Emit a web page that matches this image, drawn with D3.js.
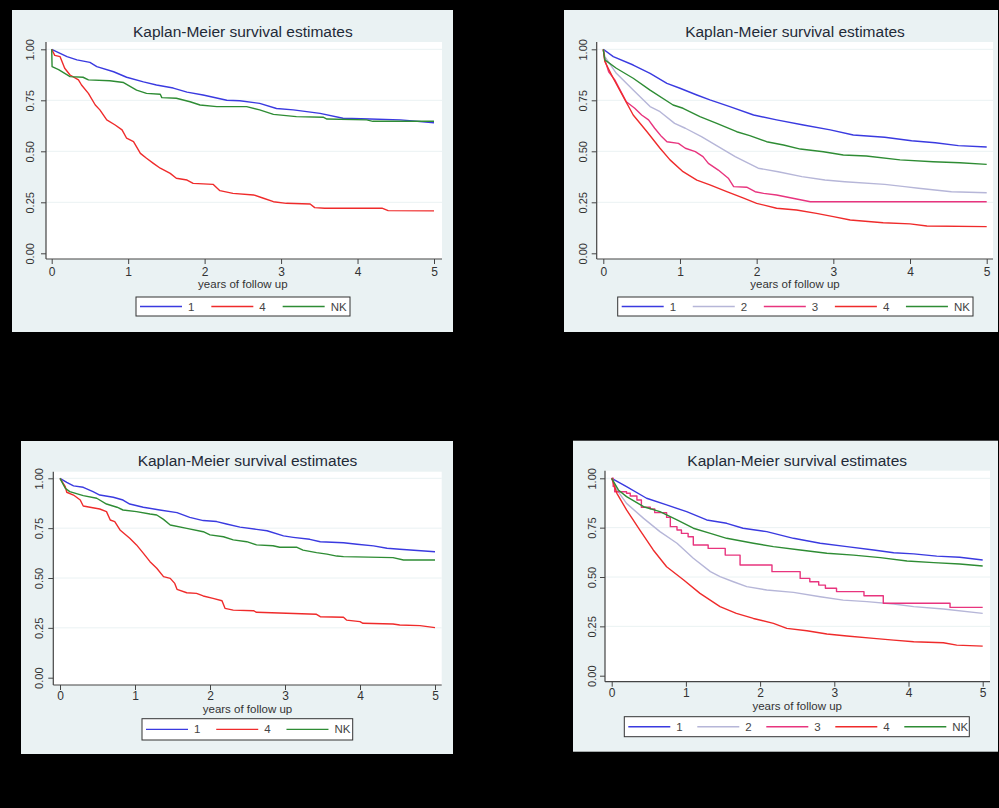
<!DOCTYPE html>
<html>
<head>
<meta charset="utf-8">
<script src="https://cdn.jsdelivr.net/npm/d3@7"></script>
<style>
  body { margin: 0; background: #000; }
  svg { display: block; font-family: "Liberation Sans", Arial, sans-serif; }
</style>
</head>
<body>
<svg id="km" width="999" height="808"></svg>
<script>
// survival estimates: [years, survival]
var p1_g1 = [[0,1],[0.2,0.964],[0.33,0.948],[0.5,0.936],[0.59,0.915],[0.81,0.89],[0.98,0.863],[1.2,0.84],[1.37,0.825],[1.59,0.81],[1.77,0.79],[1.98,0.776],[2.29,0.75],[2.46,0.748],[2.72,0.735],[2.94,0.71],[3.16,0.703],[3.51,0.686],[3.81,0.662],[4.16,0.658],[4.56,0.654],[5,0.64]];
var p1_g4 = [[0,1],[0.04,0.97],[0.11,0.964],[0.17,0.907],[0.24,0.874],[0.35,0.85],[0.39,0.825],[0.48,0.784],[0.57,0.727],[0.63,0.703],[0.72,0.654],[0.83,0.629],[0.92,0.605],[0.98,0.564],[1.07,0.547],[1.16,0.49],[1.24,0.466],[1.33,0.441],[1.42,0.417],[1.55,0.392],[1.63,0.368],[1.77,0.359],[1.85,0.343],[2.11,0.338],[2.2,0.307],[2.37,0.294],[2.64,0.286],[2.77,0.27],[2.9,0.253],[3.07,0.245],[3.38,0.242],[3.44,0.224],[3.57,0.221],[4.32,0.221],[4.4,0.209],[5,0.208]];
var p1_gNK = [[0,1],[0.005,0.915],[0.09,0.9],[0.24,0.866],[0.41,0.863],[0.48,0.85],[0.76,0.846],[0.94,0.837],[1.11,0.8],[1.24,0.784],[1.42,0.78],[1.44,0.763],[1.63,0.76],[1.81,0.743],[1.94,0.727],[2.16,0.719],[2.55,0.719],[2.72,0.703],[2.9,0.681],[3.2,0.67],[3.55,0.667],[3.6,0.658],[4.12,0.654],[4.2,0.647],[5,0.647]];

var p2_g1 = [[0,1],[0.13,0.964],[0.39,0.923],[0.61,0.882],[0.83,0.833],[1.0,0.809],[1.22,0.776],[1.39,0.752],[1.65,0.719],[1.96,0.678],[2.26,0.654],[2.61,0.629],[2.96,0.605],[3.26,0.58],[3.67,0.569],[4.02,0.552],[4.33,0.542],[4.63,0.528],[5,0.521]];
var p2_g2 = [[0,1],[0.02,0.964],[0.17,0.882],[0.39,0.8],[0.61,0.719],[0.74,0.694],[0.93,0.637],[1.07,0.613],[1.28,0.572],[1.5,0.523],[1.72,0.474],[1.85,0.449],[2.02,0.417],[2.28,0.4],[2.59,0.376],[2.89,0.359],[3.15,0.351],[3.67,0.338],[3.93,0.327],[4.11,0.319],[4.54,0.302],[5,0.297]];
var p2_g3 = [[0,1],[0.02,0.948],[0.07,0.89],[0.15,0.85],[0.22,0.8],[0.3,0.743],[0.41,0.711],[0.5,0.678],[0.59,0.654],[0.67,0.613],[0.76,0.572],[0.83,0.547],[0.98,0.539],[1.07,0.515],[1.2,0.498],[1.3,0.474],[1.37,0.441],[1.5,0.408],[1.63,0.368],[1.7,0.327],[1.87,0.324],[1.98,0.302],[2.09,0.294],[2.26,0.286],[2.52,0.266],[2.7,0.253],[5,0.253]];
var p2_g4 = [[0,1],[0.02,0.94],[0.13,0.858],[0.26,0.768],[0.39,0.678],[0.57,0.596],[0.74,0.515],[0.87,0.458],[1.04,0.4],[1.22,0.359],[1.39,0.335],[1.61,0.302],[1.83,0.27],[2.0,0.245],[2.26,0.221],[2.52,0.212],[2.78,0.196],[3.0,0.18],[3.22,0.163],[3.65,0.15],[4.0,0.144],[4.22,0.134],[5,0.131]];
var p2_gNK = [[0,1],[0.02,0.948],[0.17,0.907],[0.39,0.858],[0.61,0.8],[0.91,0.727],[1.04,0.711],[1.26,0.67],[1.48,0.637],[1.74,0.596],[1.91,0.577],[2.13,0.547],[2.35,0.531],[2.57,0.511],[2.87,0.498],[3.13,0.482],[3.43,0.477],[3.87,0.458],[4.3,0.449],[4.65,0.444],[5,0.436]];

var p3_g1 = [[0,1],[0.09,0.98],[0.18,0.962],[0.31,0.955],[0.44,0.933],[0.53,0.916],[0.71,0.905],[0.84,0.891],[0.93,0.871],[1.11,0.855],[1.33,0.841],[1.56,0.828],[1.73,0.804],[1.91,0.788],[2.09,0.783],[2.22,0.771],[2.4,0.755],[2.62,0.744],[2.76,0.737],[2.98,0.711],[3.11,0.704],[3.33,0.694],[3.47,0.682],[3.78,0.677],[3.96,0.669],[4.18,0.661],[4.36,0.649],[4.53,0.644],[5,0.632]];
var p3_g4 = [[0,1],[0.07,0.958],[0.09,0.93],[0.18,0.916],[0.27,0.891],[0.31,0.861],[0.4,0.855],[0.53,0.846],[0.62,0.833],[0.67,0.791],[0.73,0.783],[0.8,0.741],[0.93,0.699],[1.02,0.666],[1.11,0.625],[1.2,0.582],[1.29,0.549],[1.38,0.507],[1.47,0.498],[1.53,0.473],[1.56,0.443],[1.69,0.426],[1.82,0.423],[1.91,0.41],[2.04,0.398],[2.16,0.386],[2.2,0.348],[2.31,0.339],[2.58,0.336],[2.62,0.328],[3.02,0.323],[3.42,0.318],[3.47,0.306],[3.78,0.303],[3.82,0.289],[4.0,0.281],[4.04,0.273],[4.44,0.269],[4.53,0.264],[4.8,0.261],[5,0.251]];
var p3_gNK = [[0,1],[0.07,0.95],[0.13,0.933],[0.31,0.913],[0.49,0.9],[0.62,0.871],[0.76,0.855],[0.84,0.841],[1.02,0.833],[1.2,0.821],[1.29,0.816],[1.38,0.794],[1.47,0.766],[1.69,0.749],[1.91,0.732],[2.0,0.716],[2.18,0.707],[2.31,0.691],[2.49,0.682],[2.62,0.666],[2.84,0.662],[2.93,0.654],[3.16,0.654],[3.24,0.64],[3.42,0.627],[3.56,0.62],[3.69,0.61],[3.78,0.607],[4.44,0.602],[4.58,0.59],[5,0.59]];

var p4_g1 = [[0,1],[0.2,0.958],[0.47,0.899],[0.74,0.865],[1.01,0.831],[1.28,0.789],[1.55,0.772],[1.77,0.747],[2.09,0.73],[2.45,0.696],[2.81,0.671],[3.17,0.654],[3.53,0.637],[3.8,0.623],[4.07,0.617],[4.38,0.606],[4.69,0.6],[5,0.586]];
var p4_g2 = [[0,1],[0.07,0.941],[0.2,0.873],[0.43,0.797],[0.65,0.73],[0.88,0.671],[1.1,0.595],[1.33,0.527],[1.46,0.502],[1.64,0.476],[1.82,0.451],[2.09,0.434],[2.45,0.422],[2.81,0.4],[3.12,0.383],[3.44,0.375],[3.8,0.363],[4.07,0.35],[4.47,0.338],[5,0.316]];
var p4_g3 = [[0,1],[0.02,0.958],[0.04,0.932],[0.2,0.924],[0.25,0.91],[0.34,0.89],[0.4,0.853],[0.52,0.845],[0.58,0.826],[0.74,0.802],[0.79,0.755],[0.88,0.738],[0.94,0.721],[1.03,0.704],[1.1,0.662],[1.3,0.645],[1.53,0.611],[1.73,0.561],[2.16,0.527],[2.54,0.493],[2.67,0.476],[2.79,0.459],[2.88,0.443],[3.03,0.426],[3.4,0.405],[3.66,0.367],[4.56,0.346],[5,0.346]];
var p4_g4 = [[0,1],[0.07,0.924],[0.2,0.84],[0.38,0.738],[0.56,0.637],[0.74,0.552],[0.97,0.485],[1.19,0.417],[1.46,0.35],[1.68,0.316],[1.91,0.29],[2.18,0.265],[2.36,0.24],[2.63,0.228],[2.9,0.211],[3.17,0.201],[3.53,0.189],[3.8,0.18],[4.07,0.172],[4.47,0.167],[4.65,0.155],[5,0.15]];
var p4_gNK = [[0,1],[0.09,0.941],[0.2,0.907],[0.43,0.856],[0.65,0.831],[0.88,0.789],[1.1,0.747],[1.33,0.721],[1.55,0.696],[1.91,0.671],[2.18,0.654],[2.54,0.637],[2.9,0.62],[3.26,0.611],[3.62,0.598],[3.98,0.581],[4.34,0.573],[4.69,0.566],[5,0.556]];

var xTicks = [0, 1, 2, 3, 4, 5];
var yTicks = [0, 0.25, 0.5, 0.75, 1];
var title = "Kaplan-Meier survival estimates";
var xTitle = "years of follow up";

var colors = { "1": "#3a3ae0", "2": "#b6b6d8", "3": "#e8347e", "4": "#ef2b2b", "NK": "#2e8c34" };

var panels = [
  { box: [12, 10, 453, 332], plot: [46, 42, 442, 259], x: [51.7, 434], y: [253.3, 49.3],
    legend: [136, 297, 350, 316], tickY: 272, titleY: 31, axTitleY: 284, yLabX: 30,
    series: [["1", p1_g1, "linear"], ["4", p1_g4, "linear"], ["NK", p1_gNK, "linear"]] },
  { box: [564, 10, 998, 332], plot: [596.7, 42, 993, 259], x: [603.3, 986.7], y: [253.3, 49.3],
    legend: [617.7, 297, 973, 316], tickY: 272, titleY: 31, axTitleY: 284, yLabX: 583.3,
    series: [["1", p2_g1, "linear"], ["2", p2_g2, "linear"], ["3", p2_g3, "linear"], ["4", p2_g4, "linear"], ["NK", p2_gNK, "linear"]] },
  { box: [21, 441, 453, 754], plot: [53.3, 471.7, 441.7, 685], x: [60, 435], y: [677.7, 478.3],
    legend: [142, 718.7, 352.7, 740], tickY: 696, titleY: 460.7, axTitleY: 709, yLabX: 39.3,
    series: [["1", p3_g1, "linear"], ["4", p3_g4, "linear"], ["NK", p3_gNK, "linear"]] },
  { box: [573, 440.7, 998, 751.7], plot: [605, 470.7, 990, 681.7], x: [611.7, 982.7], y: [675.7, 478.3],
    legend: [624.3, 716.7, 969.3, 736.7], tickY: 693.5, titleY: 460.7, axTitleY: 705.5, yLabX: 591.7,
    series: [["1", p4_g1, "linear"], ["2", p4_g2, "linear"], ["3", p4_g3, "step"], ["4", p4_g4, "linear"], ["NK", p4_gNK, "linear"]] }
];

var svg = d3.select("#km");
svg.append("rect").attr("width", 999).attr("height", 808).attr("fill", "#000");

panels.forEach(function(p) {
  var g = svg.append("g");
  var b = p.box, pl = p.plot;
  g.append("rect").attr("x", b[0]).attr("y", b[1]).attr("width", b[2] - b[0]).attr("height", b[3] - b[1])
    .attr("fill", "#eaf2f3");
  g.append("rect").attr("x", pl[0]).attr("y", pl[1]).attr("width", pl[2] - pl[0]).attr("height", pl[3] - pl[1])
    .attr("fill", "#fff");

  var x = d3.scaleLinear().domain([0, 5]).range(p.x);
  var y = d3.scaleLinear().domain([0, 1]).range(p.y);

  // grid
  g.selectAll(".grid").data(yTicks.slice(1)).enter().append("line")
    .attr("x1", pl[0]).attr("x2", pl[2])
    .attr("y1", function(d) { return y(d); }).attr("y2", function(d) { return y(d); })
    .attr("stroke", "#eaf2f3").attr("stroke-width", 1);

  // axes
  var yAxis = g.append("g").attr("transform", "translate(" + pl[0] + ",0)")
    .call(d3.axisLeft(y).tickValues(yTicks).tickFormat(d3.format(".2f")).tickSize(5).tickSizeOuter(0));
  var xAxis = g.append("g").attr("transform", "translate(0," + pl[3] + ")")
    .call(d3.axisBottom(x).tickValues(xTicks).tickFormat(d3.format("d")).tickSize(5).tickSizeOuter(0));
  [yAxis, xAxis].forEach(function(a) {
    a.select(".domain").remove();
    a.selectAll(".tick line").attr("stroke", "#444");
    a.selectAll("text").attr("fill", "#333").attr("font-size", 11).attr("font-family", null);
  });
  xAxis.selectAll("text").attr("font-size", 12);
  yAxis.selectAll("text")
    .attr("transform", "rotate(-90)")
    .attr("text-anchor", "middle")
    .attr("x", 0).attr("dy", null)
    .attr("y", -(pl[0] - p.yLabX - 4));
  xAxis.selectAll("text").attr("y", p.tickY - pl[3] + 4).attr("dy", null);

  g.append("line").attr("x1", pl[0]).attr("x2", pl[0]).attr("y1", pl[1]).attr("y2", pl[3])
    .attr("stroke", "#444").attr("stroke-width", 1.2);
  g.append("line").attr("x1", pl[0]).attr("x2", pl[2]).attr("y1", pl[3]).attr("y2", pl[3])
    .attr("stroke", "#444").attr("stroke-width", 1.2);

  // curves
  p.series.forEach(function(s) {
    var line = d3.line()
      .x(function(d) { return x(d[0]); })
      .y(function(d) { return y(d[1]); })
      .curve(s[2] === "step" ? d3.curveStepAfter : d3.curveLinear);
    g.append("path").datum(s[1]).attr("d", line)
      .attr("fill", "none").attr("stroke", colors[s[0]]).attr("stroke-width", 1.4)
      .attr("stroke-linejoin", "round");
  });

  // titles
  g.append("text").attr("x", (p.x[0] + p.x[1]) / 2).attr("y", p.titleY + 5.5)
    .attr("text-anchor", "middle").attr("font-size", 15.5).attr("fill", "#1f2a38").text(title);
  g.append("text").attr("x", (p.x[0] + p.x[1]) / 2).attr("y", p.axTitleY + 4)
    .attr("text-anchor", "middle").attr("font-size", 11.5).attr("fill", "#333").text(xTitle);

  // legend
  var L = p.legend;
  g.append("rect").attr("x", L[0]).attr("y", L[1]).attr("width", L[2] - L[0]).attr("height", L[3] - L[1])
    .attr("fill", "#fff").attr("stroke", "#333").attr("stroke-width", 1);
  var step = (L[2] - L[0]) / p.series.length;
  var my = (L[1] + L[3]) / 2;
  p.series.forEach(function(s, i) {
    var x0 = L[0] + i * step;
    g.append("line").attr("x1", x0 + 4).attr("x2", x0 + 46).attr("y1", my).attr("y2", my)
      .attr("stroke", colors[s[0]]).attr("stroke-width", 1.4);
    g.append("text").attr("x", x0 + 52).attr("y", my + 4).attr("font-size", 11.5).attr("fill", "#444").text(s[0]);
  });
});
</script>
</body>
</html>
